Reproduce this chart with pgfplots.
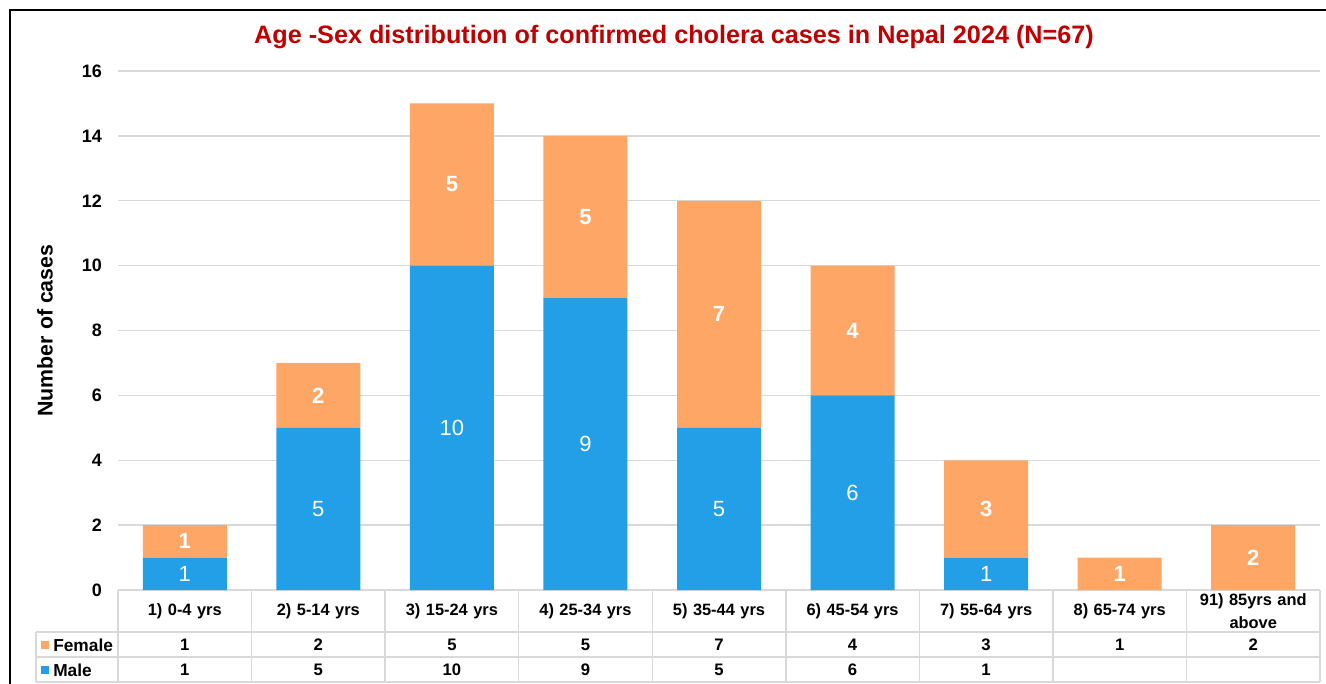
\documentclass[border=0pt]{standalone}
\usepackage{pgfplots}
\pgfplotsset{compat=1.18}
\usepackage{fontspec}
\setmainfont{Liberation Sans}
\definecolor{male}{RGB}{35,159,232}
\definecolor{female}{RGB}{253,166,102}
\definecolor{gridc}{RGB}{217,217,217}
\definecolor{titlered}{RGB}{192,0,0}
\pgfplotsset{/pgf/number format/assume math mode=true}
\begin{document}
\begin{tikzpicture}[x=0.75pt,y=-0.75pt]
\path[use as bounding box] (0,0) rectangle (1326,684);
\draw[line width=1.6pt, black] (10,684) -- (10,10) -- (1326,10);
\node[font=\fontsize{18.9}{22}\selectfont\bfseries, text=titlered] at (674,37) {Age -Sex distribution of confirmed cholera cases in Nepal 2024 (N=67)};
\begin{axis}[
  at={(88.5pt,-442.5pt)}, anchor=south west,
  scale only axis, width=901.5pt, height=389.25pt,
  xmin=-0.5, xmax=8.5, ymin=0, ymax=16,
  ybar stacked, bar width=63pt,
  ytick={0,2,...,16},
  xtick={0,...,8},
  xticklabels={{1) 0-4 yrs},{2) 5-14 yrs},{3) 15-24 yrs},{4) 25-34 yrs},{5) 35-44 yrs},{6) 45-54 yrs},{7) 55-64 yrs},{8) 65-74 yrs},{91) 85yrs and\\above}},
  xticklabel style={font=\fontsize{12.3}{17.5}\selectfont\bfseries, text width=95pt, align=center, anchor=center, yshift=-15.75pt},
  yticklabel style={font=\fontsize{13.5}{15}\selectfont\bfseries, xshift=-8.5pt},
  ymajorgrids, grid style={gridc, line width=1.1pt},
  axis x line*=bottom, axis y line*=left,
  x axis line style={gridc, line width=1.1pt, -},
  y axis line style={draw=none},
  tick style={draw=none},
  ylabel={Number of cases},
  every axis y label/.style={at={(axis description cs:-0.0607,0.5)}, rotate=90, anchor=center, font=\fontsize{16}{18}\selectfont\bfseries},
]
\addplot[fill=male, draw=none] coordinates {(0,1) (1,5) (2,10) (3,9) (4,5) (5,6) (6,1) (7,0) (8,0)};
\addplot[fill=female, draw=none] coordinates {(0,1) (1,2) (2,5) (3,5) (4,7) (5,4) (6,3) (7,1) (8,2)};
\end{axis}
\begin{axis}[
  at={(88.5pt,-442.5pt)}, anchor=south west,
  scale only axis, width=901.5pt, height=389.25pt,
  xmin=-0.5, xmax=8.5, ymin=0, ymax=16,
  hide axis, clip=false,
  nodes near coords, point meta=explicit,
  nodes near coords align=center,
]
% male labels (centre of segment)
\addplot[draw=none, mark=none, nodes near coords style={text=white, font=\fontsize{16.5}{18}\selectfont}]
  coordinates {(0,0.5) [1] (1,2.5) [5] (2,5) [10] (3,4.5) [9] (4,2.5) [5] (5,3) [6] (6,0.5) [1]};
% female labels
\addplot[draw=none, mark=none, nodes near coords style={text=white, font=\fontsize{16.5}{18}\selectfont\bfseries}]
  coordinates {(0,1.5) [1] (1,6) [2] (2,12.5) [5] (3,11.5) [5] (4,8.5) [7] (5,8) [4] (6,2.5) [3] (7,0.5) [1] (8,1) [2]};
% table rows
\addplot[draw=none, mark=none, nodes near coords style={text=black, font=\fontsize{12.5}{14}\selectfont\bfseries}]
  coordinates {(0,-1.695) [1] (1,-1.695) [2] (2,-1.695) [5] (3,-1.695) [5] (4,-1.695) [7] (5,-1.695) [4] (6,-1.695) [3] (7,-1.695) [1] (8,-1.695) [2]};
\addplot[draw=none, mark=none, nodes near coords style={text=black, font=\fontsize{12.5}{14}\selectfont\bfseries}]
  coordinates {(0,-2.466) [1] (1,-2.466) [5] (2,-2.466) [10] (3,-2.466) [9] (4,-2.466) [5] (5,-2.466) [6] (6,-2.466) [1]};
\end{axis}
% table grid
\begin{scope}[gridc, line width=1.1pt]
\draw (36,632) -- (1320,632);
\draw (36,657) -- (1320,657);
\draw (36,682) -- (1320,682);
\draw (36,632) -- (36,682);
\foreach \k in {0,...,9} {\draw ({118+\k*133.56},590) -- ({118+\k*133.56},682);}
\end{scope}
\fill[female] (41,641) rectangle (49,649);
\fill[male] (41,666) rectangle (49,674);
\node[anchor=west, inner sep=0pt, font=\fontsize{13}{15}\selectfont\bfseries] at (53,645) {Female};
\node[anchor=west, inner sep=0pt, font=\fontsize{13}{15}\selectfont\bfseries] at (53,670) {Male};
\end{tikzpicture}
\end{document}
